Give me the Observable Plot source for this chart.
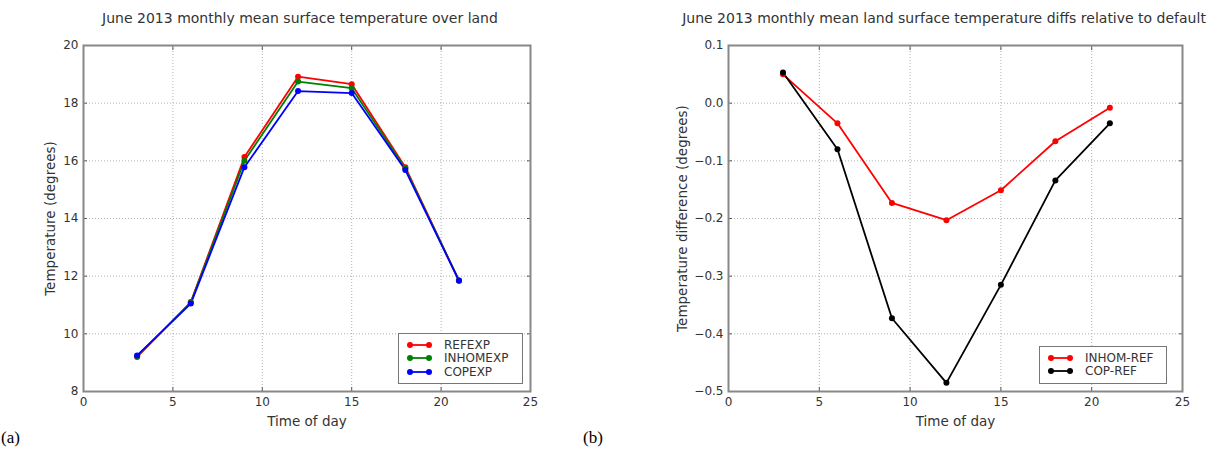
<!DOCTYPE html>
<html>
<head>
<meta charset="utf-8">
<script src="https://cdn.jsdelivr.net/npm/d3@7"></script>
<script src="https://cdn.jsdelivr.net/npm/@observablehq/plot@0.6"></script>
<style>
  html, body { margin: 0; padding: 0; background: #fff; }
  #page { position: relative; width: 1214px; height: 465px; overflow: hidden; font-family: "DejaVu Sans", sans-serif; color: #333; }
  .panel { position: absolute; top: 0; }
  .title { position: absolute; top: 10px; font-size: 14px; white-space: nowrap; transform: translateX(-50%); color: #333; }
  .tag { position: absolute; font-family: "Liberation Serif", serif; font-size: 17px; color: #000; }
  .legend { position: absolute; border: 1.5px solid #777; background: #fff; font-size: 12px; box-sizing: border-box; padding: 4px 0 0 8px; color: #333; }
  .legend .row { display: flex; align-items: center; height: 13.5px; }
  .legend svg { margin-right: 12px; }
  .panel svg g[aria-label="x-axis label"] text, .panel svg g[aria-label="y-axis label"] text { font-size: 13.5px; }
</style>
</head>
<body>
<div id="page"></div>
<script>
// ---- data ----
const hours = [3, 6, 9, 12, 15, 18, 21];
const refexp   = [9.20, 11.10, 16.13, 18.92, 18.66, 15.78, 11.85];
const inhomexp = [9.22, 11.08, 16.00, 18.75, 18.52, 15.73, 11.85];
const copexp   = [9.25, 11.05, 15.78, 18.42, 18.35, 15.68, 11.84];
const inhomRef = [0.050, -0.035, -0.173, -0.203, -0.151, -0.066, -0.008];
const copRef   = [0.053, -0.080, -0.373, -0.485, -0.315, -0.134, -0.035];

const leftSeries = ["REFEXP", "INHOMEXP", "COPEXP"];
const leftColors = ["#ff0000", "#008000", "#0000ff"];
const rightSeries = ["INHOM-REF", "COP-REF"];
const rightColors = ["#ff0000", "#000000"];

const xTicks = [0, 5, 10, 15, 20, 25];
const yTicksLeft = [8, 10, 12, 14, 16, 18, 20];
const yTicksRight = [-0.5, -0.4, -0.3, -0.2, -0.1, 0.0, 0.1];

const titleLeft = "June 2013 monthly mean surface temperature over land";
const titleRight = "June 2013 monthly mean land surface temperature diffs relative to default";

// ---- build tables ----
function table(names, arrays) {
  const out = [];
  names.forEach((n, i) => hours.forEach((h, j) => out.push({series: n, hour: h, value: arrays[i][j]})));
  return out;
}
const leftData = table(leftSeries, [refexp, inhomexp, copexp]);
const rightData = table(rightSeries, [inhomRef, copRef]);

const page = document.getElementById("page");
const fmtRight = d => (d < -1e-9 ? "\u2212" : "") + Math.abs(d).toFixed(1);
const blank = () => "";

function panel({data, series, colors, yDomain, yTicks, yFormat, yLabel, left, width, marginLeft, marginRight, yLabelOffset}) {
  const inner = xTicks.slice(1, -1), innerY = yTicks.slice(1, -1);
  const chart = Plot.plot({
    width, height: 465,
    marginLeft, marginRight, marginTop: 45, marginBottom: 74,
    style: {fontFamily: "DejaVu Sans, sans-serif", fontSize: "12px", color: "#333", background: "transparent"},
    x: {domain: [0, 25]},
    y: {domain: yDomain},
    color: {domain: series, range: colors},
    marks: [
      Plot.gridX(inner, {stroke: "#b0b0b0", strokeOpacity: 1, strokeDasharray: "1,2"}),
      Plot.gridY(innerY, {stroke: "#b0b0b0", strokeOpacity: 1, strokeDasharray: "1,2"}),
      Plot.axisX({ticks: xTicks, tickSize: 0, tickPadding: 6, label: "Time of day", labelAnchor: "center", labelOffset: 34, labelArrow: "none"}),
      Plot.axisY({ticks: yTicks, tickSize: 0, tickPadding: 5, tickFormat: yFormat, label: yLabel, labelAnchor: "center", labelOffset: yLabelOffset, labelArrow: "none"}),
      // inward tick marks on all four sides (matplotlib style)
      Plot.axisX({ticks: inner, anchor: "bottom", tickSize: -4, tickFormat: blank, label: null, stroke: "#555"}),
      Plot.axisX({ticks: inner, anchor: "top", tickSize: -4, tickFormat: blank, label: null, stroke: "#555"}),
      Plot.axisY({ticks: innerY, anchor: "left", tickSize: -4, tickFormat: blank, label: null, stroke: "#555"}),
      Plot.axisY({ticks: innerY, anchor: "right", tickSize: -4, tickFormat: blank, label: null, stroke: "#555"}),
      Plot.line(data, {x: "hour", y: "value", z: "series", stroke: "series", strokeWidth: 1.8}),
      Plot.dot(data, {x: "hour", y: "value", fill: "series", r: 3}),
      Plot.frame({stroke: "#888", strokeWidth: 2})
    ]
  });
  const div = document.createElement("div");
  div.className = "panel";
  div.style.left = left + "px";
  div.appendChild(chart);
  page.appendChild(div);
}

panel({data: leftData, series: leftSeries, colors: leftColors, yDomain: [8, 20], yTicks: yTicksLeft,
       yFormat: d => String(d), yLabel: "Temperature (degrees)", left: 0, width: 607, marginLeft: 83, marginRight: 77, yLabelOffset: 38});
panel({data: rightData, series: rightSeries, colors: rightColors, yDomain: [-0.5, 0.1], yTicks: yTicksRight,
       yFormat: fmtRight, yLabel: "Temperature difference (degrees)", left: 607, width: 607, marginLeft: 121, marginRight: 32, yLabelOffset: 51});

// titles
function addTitle(text, cx) {
  const t = document.createElement("div");
  t.className = "title"; t.textContent = text; t.style.left = cx + "px";
  page.appendChild(t);
}
addTitle(titleLeft, 300);
addTitle(titleRight, 944);

// legends
function addLegend(series, colors, left, top, w, h) {
  const lg = document.createElement("div");
  lg.className = "legend";
  Object.assign(lg.style, {left: left + "px", top: top + "px", width: w + "px", height: h + "px"});
  series.forEach((s, i) => {
    const row = document.createElement("div"); row.className = "row";
    row.innerHTML = `<svg width="25" height="8"><line x1="3" y1="4" x2="22" y2="4" stroke="${colors[i]}" stroke-width="1.8"/><circle cx="3" cy="4" r="3" fill="${colors[i]}"/><circle cx="22" cy="4" r="3" fill="${colors[i]}"/></svg><span>${s}</span>`;
    lg.appendChild(row);
  });
  page.appendChild(lg);
}
addLegend(leftSeries, leftColors, 398, 333, 125, 51);
addLegend(rightSeries, rightColors, 1039, 346, 128, 38);

// panel tags
function addTag(text, x, y) {
  const t = document.createElement("div");
  t.className = "tag"; t.textContent = text; t.style.left = x + "px"; t.style.top = y + "px";
  page.appendChild(t);
}
addTag("(a)", 1, 428);
addTag("(b)", 583, 428);
</script>
</body>
</html>
